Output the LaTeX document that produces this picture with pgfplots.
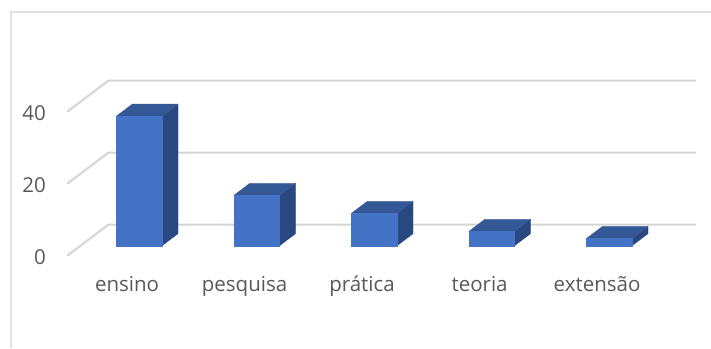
\documentclass[border=0pt]{standalone}
\usepackage{fontspec}
\setmainfont{Open Sans}
\usepackage{pgfplots}
\pgfplotsset{compat=1.18}
\usetikzlibrary{calc}
\definecolor{barfront}{HTML}{4472C4}
\definecolor{bartop}{HTML}{335895}
\definecolor{barside}{HTML}{2A4880}
\definecolor{gridc}{HTML}{D4D4D4}
\definecolor{framec}{HTML}{E0E0E0}
\definecolor{textc}{HTML}{595959}
\begin{document}
\begin{tikzpicture}[x=1pt,y=1pt]
\begin{axis}[
  x={(117.5pt,0pt)}, y={(41pt,31pt)}, z={(0pt,3.6pt)},
  xmin=0.5, xmax=5.5, ymin=0, ymax=1, zmin=0, zmax=48,
  clip=false,
  axis line style={draw=none},
  major tick length=0pt,
  xtick={1,2,3,4,5},
  xticklabels={ensino,pesquisa,prática,teoria,extensão},
  ytick=\empty,
  ztick={0,20,40},
  grid=none,
  /pgf/number format/assume math mode=true,
  tick label style={font=\fontsize{20.5}{24}\selectfont, text=textc},
  xticklabel style={anchor=north, yshift=-17pt, xshift=1pt},
  zticklabel style={anchor=east, xshift=-18pt, yshift=-1pt},
]
% gridlines: floor/wall
\addplot3[gridc, line width=2pt, forget plot] coordinates {(0.5,0,0) (0.5,1,0) (5.5,1,0)};
\addplot3[gridc, line width=2pt, forget plot] coordinates {(0.5,0,20) (0.5,1,20) (5.5,1,20)};
\addplot3[gridc, line width=2pt, forget plot] coordinates {(0.5,0,40) (0.5,1,40) (5.5,1,40)};
% ensino = 36
\addplot3[fill=barside, draw=barside, line width=0.2pt, forget plot] coordinates {(1.195,0.32,0) (1.195,0.71,0) (1.195,0.71,36) (1.195,0.32,36)} --cycle;
\addplot3[fill=bartop, draw=bartop, line width=0.2pt, forget plot] coordinates {(0.805,0.32,36) (1.195,0.32,36) (1.195,0.71,36) (0.805,0.71,36)} --cycle;
\addplot3[fill=barfront, draw=barfront, line width=0.2pt, forget plot] coordinates {(0.805,0.32,0) (1.195,0.32,0) (1.195,0.32,36) (0.805,0.32,36)} --cycle;
% pesquisa = 14
\addplot3[fill=barside, draw=barside, line width=0.2pt, forget plot] coordinates {(2.195,0.32,0) (2.195,0.71,0) (2.195,0.71,14) (2.195,0.32,14)} --cycle;
\addplot3[fill=bartop, draw=bartop, line width=0.2pt, forget plot] coordinates {(1.805,0.32,14) (2.195,0.32,14) (2.195,0.71,14) (1.805,0.71,14)} --cycle;
\addplot3[fill=barfront, draw=barfront, line width=0.2pt, forget plot] coordinates {(1.805,0.32,0) (2.195,0.32,0) (2.195,0.32,14) (1.805,0.32,14)} --cycle;
% pratica = 9
\addplot3[fill=barside, draw=barside, line width=0.2pt, forget plot] coordinates {(3.195,0.32,0) (3.195,0.71,0) (3.195,0.71,9) (3.195,0.32,9)} --cycle;
\addplot3[fill=bartop, draw=bartop, line width=0.2pt, forget plot] coordinates {(2.805,0.32,9) (3.195,0.32,9) (3.195,0.71,9) (2.805,0.71,9)} --cycle;
\addplot3[fill=barfront, draw=barfront, line width=0.2pt, forget plot] coordinates {(2.805,0.32,0) (3.195,0.32,0) (3.195,0.32,9) (2.805,0.32,9)} --cycle;
% teoria = 4
\addplot3[fill=barside, draw=barside, line width=0.2pt, forget plot] coordinates {(4.195,0.32,0) (4.195,0.71,0) (4.195,0.71,4) (4.195,0.32,4)} --cycle;
\addplot3[fill=bartop, draw=bartop, line width=0.2pt, forget plot] coordinates {(3.805,0.32,4) (4.195,0.32,4) (4.195,0.71,4) (3.805,0.71,4)} --cycle;
\addplot3[fill=barfront, draw=barfront, line width=0.2pt, forget plot] coordinates {(3.805,0.32,0) (4.195,0.32,0) (4.195,0.32,4) (3.805,0.32,4)} --cycle;
% extensao = 2
\addplot3[fill=barside, draw=barside, line width=0.2pt, forget plot] coordinates {(5.195,0.32,0) (5.195,0.71,0) (5.195,0.71,2) (5.195,0.32,2)} --cycle;
\addplot3[fill=bartop, draw=bartop, line width=0.2pt, forget plot] coordinates {(4.805,0.32,2) (5.195,0.32,2) (5.195,0.71,2) (4.805,0.71,2)} --cycle;
\addplot3[fill=barfront, draw=barfront, line width=0.2pt, forget plot] coordinates {(4.805,0.32,0) (5.195,0.32,0) (5.195,0.32,2) (4.805,0.32,2)} --cycle;
\coordinate (O) at (axis cs:0.5,0,0);
\end{axis}
\path[use as bounding box] ($(O)+(-67.3pt,-92.3pt)$) rectangle +(711pt,348pt);
\draw[framec, line width=2pt] ($(O)+(-56pt,-92.3pt)$) -- ($(O)+(-56pt,243.4pt)$) -- ($(O)+(643.7pt,243.4pt)$);
\end{tikzpicture}
\end{document}
